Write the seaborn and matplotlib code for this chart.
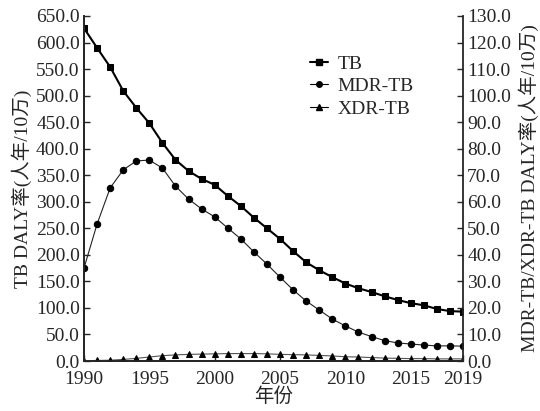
import numpy as np
import pandas as pd
import matplotlib
matplotlib.use("Agg")
import matplotlib.pyplot as plt
import seaborn as sns
from matplotlib.lines import Line2D

years = list(range(1990, 2020))
tb = [627, 590, 554, 509, 477, 448, 411, 379, 358, 343, 332, 311, 292, 270, 250,
      230, 207, 186, 171, 158, 146, 137, 130, 122, 115, 109, 105, 98, 94, 93]
mdr = [35.0, 51.6, 65.2, 72.0, 75.4, 75.7, 72.7, 65.9, 61.0, 57.3, 54.3, 50.1, 46.0,
       41.1, 36.5, 31.6, 26.8, 22.6, 19.2, 15.8, 13.2, 10.9, 9.2, 7.7, 6.8, 6.4,
       6.0, 5.7, 5.7, 5.6]
xdr = [0.1, 0.2, 0.3, 0.6, 1.0, 1.5, 2.0, 2.3, 2.5, 2.6, 2.7, 2.8, 2.8, 2.8, 2.7,
       2.5, 2.4, 2.3, 2.1, 1.9, 1.6, 1.5, 1.3, 1.1, 1.0, 0.9, 0.9, 0.8, 0.8, 0.8]
left_ticks = list(np.arange(0, 651, 50))
right_ticks = list(np.arange(0, 131, 10))
x_ticks = [1990, 1995, 2000, 2005, 2010, 2015, 2019]

sns.set_style("ticks")
fam = ['Liberation Serif', 'Noto Sans CJK SC']
plt.rcParams['font.family'] = fam
plt.rcParams['axes.unicode_minus'] = False

df = pd.DataFrame({"year": years, "TB": tb, "MDR": mdr, "XDR": xdr})

fig = plt.figure(figsize=(5.4, 4.11), dpi=100)
ax = fig.add_axes([84/540, 1-361/411, (463-84)/540, (361-16)/411])
ax2 = ax.twinx()

sns.lineplot(data=df, x="year", y="TB", ax=ax, color="black", marker="s",
             markersize=5, linewidth=1.5, markeredgecolor="black")
sns.lineplot(data=df, x="year", y="MDR", ax=ax2, color="#222222", marker="o",
             markersize=4.6, linewidth=0.8, markeredgecolor="black",
             markerfacecolor="black")
sns.lineplot(data=df, x="year", y="XDR", ax=ax2, color="#555555", marker="^",
             markersize=5, linewidth=0.8, markeredgecolor="black",
             markerfacecolor="black")

ax.set_xlim(1990, 2019)
ax.set_ylim(0, 650)
ax2.set_ylim(0, 130)
ax.set_xticks(x_ticks)
ax.set_xticklabels([str(t) for t in x_ticks])
ax.set_yticks(left_ticks)
ax.set_yticklabels([f"{v:.1f}" for v in left_ticks])
ax2.set_yticks(right_ticks)
ax2.set_yticklabels([f"{v:.1f}" for v in right_ticks])

fs = 14
ax.tick_params(axis='x', labelsize=fs, direction='in', length=4, width=1, pad=7)
ax.tick_params(axis='y', labelsize=fs, direction='in', length=4, width=1, pad=3)
ax2.tick_params(axis='y', labelsize=fs, direction='in', length=4, width=1, pad=3)

for a in (ax, ax2):
    a.spines['top'].set_visible(False)
    for s in ('left', 'right', 'bottom'):
        a.spines[s].set_linewidth(1.3)
ax.spines['right'].set_visible(False)

ax.set_xlabel("年份", fontsize=fs, labelpad=0, family=fam)
ax.set_ylabel("TB DALY率(人年/10万)", fontsize=fs, labelpad=3, family=fam)
ax2.set_ylabel("MDR-TB/XDR-TB DALY率(人年/10万)", fontsize=fs, labelpad=5,
               rotation=90, family=fam)

handles = [
    Line2D([], [], color='black', marker='s', markersize=4.5, linewidth=1.5),
    Line2D([], [], color='black', marker='o', markersize=4, linewidth=0.8),
    Line2D([], [], color='black', marker='^', markersize=4.5, linewidth=0.8),
]
ax2.legend(handles, ["TB", "MDR-TB", "XDR-TB"], loc='upper left',
           bbox_to_anchor=(310/540, 1-55/411), bbox_transform=fig.transFigure,
           frameon=False, fontsize=fs, handlelength=0.9, handletextpad=0.5,
           labelspacing=0.25, borderaxespad=0, borderpad=0)

fig.savefig("out.png", dpi=100)
